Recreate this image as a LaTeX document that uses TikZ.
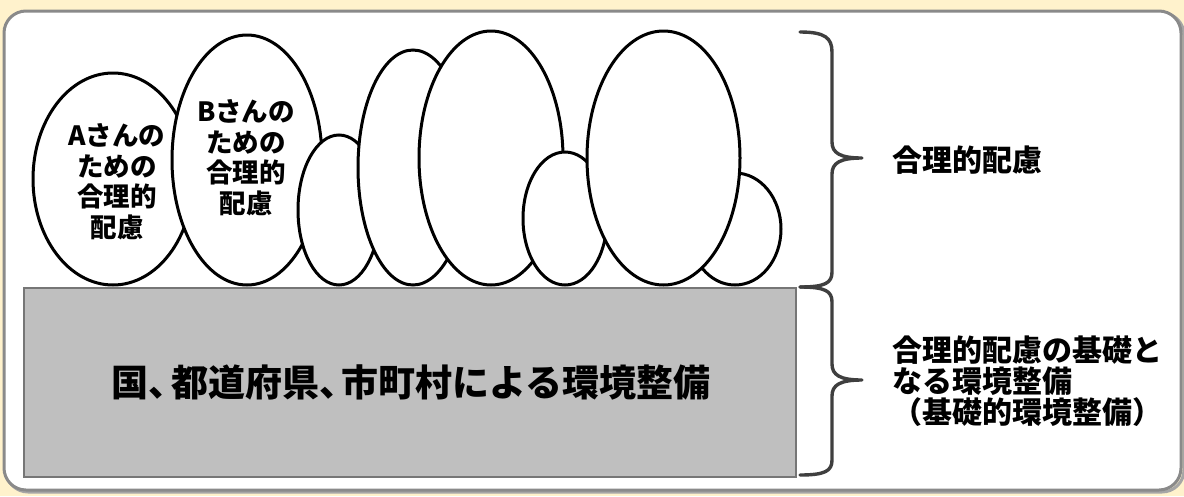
\documentclass[tikz,border=0pt]{standalone}
\usepackage{fontspec}
\usetikzlibrary{shapes.geometric}
\setmainfont{Noto Sans CJK JP}
\definecolor{cream}{HTML}{FFF2CC}
\definecolor{framegray}{HTML}{8A8A8A}
\definecolor{boxfill}{HTML}{BFBFBF}
\definecolor{boxline}{HTML}{767676}
\definecolor{bracegray}{HTML}{3F3F3F}
\newcommand{\tcomma}{\makebox[0.6em][l]{、}}
\tikzset{
  bubble/.style={draw=black, line width=3pt, fill=white, ellipse, inner sep=0pt},
  bracepath/.style={draw=bracegray, line width=3.4pt, line cap=round, line join=round},
  bubbletext/.style={align=center, font=\bfseries\fontsize{26.5}{30.5}\selectfont, inner sep=0pt},
  sidetext/.style={align=left, anchor=west, font=\bfseries\fontsize{30}{31}\selectfont, inner sep=0pt},
}
\begin{document}
\begin{tikzpicture}[x=1pt,y=-1pt]
\useasboundingbox (0,0) rectangle (1184,496);
\fill[cream] (0,0) rectangle (1184,496);
% frame with shadow
\draw[gray!70, line width=3pt, rounded corners=22pt] (6,13) rectangle (1184,492);
\draw[framegray, line width=3pt, fill=white, rounded corners=22pt] (4,11) rectangle (1181,490);
% base box
\node[draw=boxline, line width=2pt, fill=boxfill, minimum width=772pt, minimum height=189pt, inner sep=0pt, anchor=north west] (base) at (23,287) {};
\node[font=\bfseries\fontsize{37}{40}\selectfont, inner sep=0pt] (basetext) at (411,382) {国\tcomma 都道府県\tcomma 市町村による環境整備};
% bubbles
\node[bubble, minimum width=160pt, minimum height=212pt] (ea) at (113,179) {};
\node[bubble, minimum width=150pt, minimum height=250pt] (eb) at (247,160) {};
\node[bubble, minimum width=82pt, minimum height=150pt] (ec) at (339,210) {};
\node[bubble, minimum width=110pt, minimum height=235pt] (ed) at (413,167.5) {};
\node[bubble, minimum width=144pt, minimum height=254pt] (ee) at (491,158) {};
\node[bubble, minimum width=84pt, minimum height=133pt] (ef) at (565,218.5) {};
\node[bubble, minimum width=92pt, minimum height=112pt] (eh) at (735,229) {};
\node[bubble, minimum width=153pt, minimum height=254pt] (eg) at (663.5,158) {};
\node[bubbletext] (ta) at (117,182) {Aさんの\\ための\\合理的\\配慮};
\node[bubbletext] (tb) at (246,158) {Bさんの\\ための\\合理的\\配慮};
% braces
\coordinate (b1top) at (800,32);
\coordinate (b1tip) at (862,158);
\coordinate (bmid) at (800,287);
\coordinate (b2tip) at (862,380);
\coordinate (b2bot) at (800,475);
\path[bracepath] (b1top) .. controls (825,32) and (832,38) .. (832,52) -- (832,142)
  .. controls (832,153) and (840,158) .. (b1tip)
  .. controls (840,158) and (832,163) .. (832,174) -- (832,272)
  .. controls (832,283) and (825,287) .. (bmid);
\path[bracepath] (bmid) .. controls (825,287) and (832,291) .. (832,302) -- (832,364)
  .. controls (832,375) and (840,380) .. (b2tip)
  .. controls (840,380) and (832,385) .. (832,396) -- (832,460)
  .. controls (832,471) and (825,475) .. (b2bot);
\node[sidetext] (t1) at (892,160) {合理的配慮};
\node[sidetext] (t2) at (892,381) {合理的配慮の基礎と\\なる環境整備\\（基礎的環境整備）};
\end{tikzpicture}
\end{document}
